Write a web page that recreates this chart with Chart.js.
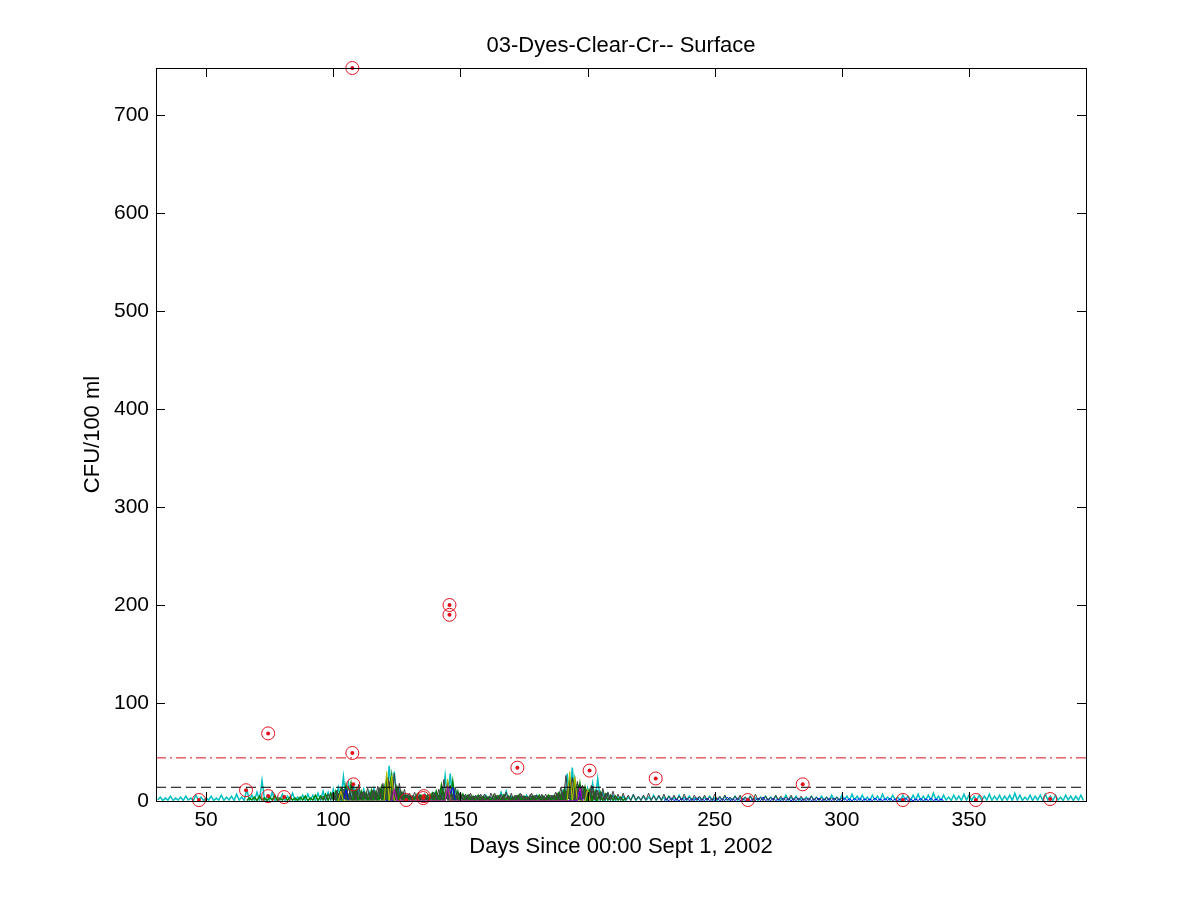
<!DOCTYPE html>
<html>
<head>
<meta charset="utf-8">
<title>03-Dyes-Clear-Cr-- Surface</title>
<script src="https://cdn.jsdelivr.net/npm/chart.js@4.4.1/dist/chart.umd.min.js"></script>
<style>
  html, body { margin: 0; padding: 0; background: #fff; }
  #wrap { width: 1200px; height: 900px; }
</style>
</head>
<body>
<div id="wrap"><canvas id="plotChart" width="1200" height="900"></canvas></div>
<script>
// axis limits and ticks
var xMin = 30.3, xMax = 396;
var yMin = 0, yMax = 748;
var xStep = 50, yStep = 100;

// reference levels (CFU/100 ml)
var upperLimit = 44;
var lowerLimit = 14;

// grab samples (red circles)
var sampleDays   = [47.2, 65.7, 74.4, 74.4, 80.7, 107.5, 107.5, 107.9, 128.7, 135.4, 135.6, 145.7, 145.7, 172.4, 200.8, 226.8, 263, 284.6, 324, 352.7, 381.9];
var sampleValues = [1, 11, 69, 5, 4, 748, 49, 17, 1, 3, 5, 200, 190, 34, 31, 23, 1, 17, 1, 1, 2];

// modelled series, one value per day starting at the given day
var cyanStart = 31;
var cyanValues = [
  1,4,0.5,3,1,5,0.5,3,1,4,0.5,5,1,3,0.5,6,1,4,0.5,3,
  1,5,0.5,3,1,6,0.5,4,1,5,0.5,7,1,4,0.5,12,1,6,0.5,9,
  1,21,0.5,5,1,9,0.5,4,1,7,0.5,5,1,8,0.5,4,1,6,0.5,7,
  1,6,0.5,8,1,10,0.5,9,1,12,0.5,14,1,25,0.5,18,1,15,0.5,13,
  1,12,0.5,10,1,13,0.5,11,1,15,0.5,36,2,30,1,12,0.5,7,1,5,
  0.5,4,1,6,0.5,7,1,5,0.5,8,1,9,0.5,26,1,28,0.5,12,1,6,
  0.5,5,1,4,0.5,5,1,4,0.5,6,1,4,0.5,5,1,9,0.5,10,1,5,
  0.5,5,1,4,0.5,6,1,4,0.5,6,1,5,0.5,4,1,5,0.5,6,1,10,
  0.5,28,1,34,0.5,16,1,9,0.5,13,1,18,0.5,23,1,9,0.5,8,1,6,
  0.5,4,1,5,0.5,4,1,6,0.5,4,1,5,0.5,4,1,6,0.5,5,1,4,
  0.5,5,1,4,0.5,6,1,4,0.5,5,1,3,0.5,4,1,4,0.5,5,1,3,
  0.5,4,1,5,0.5,3,1,5,0.5,4,1,4,0.5,5,1,3,0.5,4,1,5,
  0.5,4,1,5,0.5,3,1,6,0.5,4,1,5,0.5,3,1,4,0.5,5,1,4,
  0.5,5,1,4,0.5,6,1,4,0.5,6,1,5,0.5,7,1,5,0.5,6,1,4,
  0.5,6,1,5,0.5,7,1,4,0.5,6,1,4,0.5,6,1,5,0.5,6,1,7,
  0.5,5,1,6,0.5,8,1,5,0.5,6,1,4,0.5,6,1,5,0.5,7,1,6,
  0.5,5,1,6,0.5,5,1,7,0.5,5,1,6,0.5,5,1,6,0.5,8,1,6,
  0.5,4,1,6,0.5,5,1,6,0.5,7,1,5,0.5,6,1,4,0.5,6,1,5,
  0.5,5,1,6,0.5
];

var greenStart = 66;
var greenValues = [
  0.5,3,1,4,0.5,5,1,3,0.5,4,1,6,0.5,3,1,5,0.5,4,1,3,
  0.5,4,1,5,0.5,3,1,6,0.5,5,1,7,0.5,8,1,10,0.5,12,1,16,
  0.5,18,1,12,0.5,10,1,8,0.5,11,1,9,0.5,14,1,22,0.5,26,1,14,
  0.5,9,1,6,0.5,5,1,7,0.5,5,1,6,0.5,8,1,7,0.5,12,1,18,
  0.5,20,1,10,0.5,7,1,6,0.5,5,1,6,0.5,5,1,4,0.5,6,1,5,
  0.5,6,1,5,0.5,4,1,6,0.5,5,1,4,0.5,5,1,6,0.5,4,1,5,
  0.5,6,1,8,0.5,12,1,20,0.5,22,1,18,0.5,14,1,12,0.5,10,1,9,
  0.5,7,1,6,0.5,5,1,4,0.5,3
];

var green2Start = 100.5;
var green2Values = [
  6,1,8,0.5,10,1,7,0.5,9,1,6,0.5,8,1,7,0.5,9,1,12,0.5,
  16,1,20,0.5,12,1,8,0.5,6,1,5,0.5,4,1,6,0.5,5,1,7,0.5,
  10,1,16,0.5,12,1,7,0.5,5,1,4,0.5,5,1,4,0.5,3,1,4,0.5,
  4,1,3,0.5,5,1,4,0.5,3,1,4,0.5,5,1,3,0.5,4,1,5,0.5,
  4,1,5,0.5,6,1,5,0.5,8,1,10,0.5,16,1,18,0.5,14,1,12,0.5,
  10,1,8,0.5,6,1
];

var grayStart = 95;
var grayValues = [
  1,5,0.5,7,1,9,0.5,8,1,12,0.5,15,1,11,0.5,17,1,10,0.5,9,
  1,11,0.5,14,1,10,0.5,20,1,28,0.5,18,1,12,0.5,8,1,9,0.5,6,
  1,7,0.5,5,1,8,0.5,6,1,10,0.5,16,1,14,0.5,9,1,7,0.5,8,
  1,6,0.5,7,1,5,0.5,8,1,6,0.5,7,1,9,0.5,8,1,6,0.5,7,
  1,5,0.5,8,1,6,0.5,7,1,5,0.5,6,1,8,0.5,9,1,12,0.5,24,
  1,20,0.5,16,1,12,0.5,15,1,11,0.5,13,1,9,0.5,10,1,7,0.5,8,
  1,6,0.5,7,1,5,0.5,6,1,8,0.5,5,1,6,0.5,7,1,5,0.5,6,
  1,5,0.5,7,1,4,0.5,6,1,5,0.5,6,1,4,0.5,7,1,5,0.5,6,
  1,4,0.5,5,1,6,0.5,4,1,5,0.5,7,1,4,0.5,5,1,4,0.5,6,
  1,5,0.5,4,1,6,0.5,4,1,5,0.5,3,1,5,0.5,4,1,3,0.5,4,
  1,3,0.5,4,1,3
];

var gray2Start = 99.5;
var gray2Values = [
  8,1,11,0.5,14,2,10,1,16,0.5,12,1,9,2,13,0.5,11,1,15,2,
  18,1,24,0.5,20,1,14,2,9,0.5,7,1,6,2,8,0.5,5,1,7,2,
  9,0.5,12,1,22,2,15,0.5,10,1,8,2,6,0.5,7,1,5,2,6,0.5,
  7,1,5,2,8,0.5,6,1,7,2,5,0.5,6,1,8,2,5,0.5,7,1,
  6,2,5,0.5,7,1,6,2,9,0.5,14,1,26,2,22,0.5,17,1,15,2,
  12,0.5,16,1,11,2,9,0.5,8,1,6,2
];

var blueStart = 230;
var blueValues = [
  0.5,2,0.3,3,0.5,2,0.3,2.5,0.5,3,0.3,2,0.5,3.5,0.3,2,0.5,3,0.3,2,
  0.5,3,0.3,2,0.5,4,0.3,2,0.5,3,0.3,2.5,0.5,3,0.3,2,0.5,3,0.3,4,
  0.5,2,0.3,3,0.5,2,0.3,3,0.5,2.5,0.3,2,0.5,3,0.3,2,0.5,3,0.3,2,
  0.5,3,0.3,2,0.5,2.5,0.3,3,0.5,2,0.3,3,0.5,2,0.3,2.5,0.5,3,0.3,2,
  0.5,2,0.3,3,0.5,2,0.3,2.5,0.5,3,0.3,2,0.5,2,0.3,3,0.5,2,0.3,2,
  0.5,2.5,0.3,2,0.5,3,0.3,2,0.5,2,0.3
];

// short bursts seen in the storm periods
var blueBurstDays   = [104, 105, 106, 144, 145, 146, 147, 148, 196, 197, 198];
var blueBurstValues = [0, 12, 0, 0, 19, 8, 14, 0, 0, 10, 0];
var yellowDays   = [102, 103, 104, 120, 121, 122, 123, 124, 144, 145, 146, 192, 193, 194, 195, 196, 199, 200, 201];
var yellowValues = [0, 10, 0, 0, 30, 0, 26, 0, 0, 22, 0, 0, 30, 0, 24, 0, 0, 12, 0];
var magentaDays   = [123, 124, 125, 144, 145, 146, 196, 197, 198];
var magentaValues = [0, 12, 0, 0, 15, 0, 0, 14, 0];

function daily(start, values) {
  return values.map(function (v, i) { return { x: start + i, y: v }; });
}
function paired(days, values) {
  return days.map(function (d, i) { return { x: d, y: values[i] }; });
}
function series(data, color, width) {
  return { data: data, showLine: true, borderColor: color, borderWidth: width || 1, pointRadius: 0, tension: 0 };
}

var tickFont = { family: '"Liberation Sans", Arial, sans-serif', size: 21, weight: 'normal' };
var labelFont = { family: '"Liberation Sans", Arial, sans-serif', size: 22, weight: 'normal' };

// MATLAB style box with inward tick marks
var axesBox = {
  id: 'axesBox',
  afterDraw: function (chart) {
    var ctx = chart.ctx, a = chart.chartArea;
    var xs = chart.scales.x, ys = chart.scales.y;
    var len = 9;
    ctx.save();
    ctx.strokeStyle = '#000';
    ctx.lineWidth = 1;
    ctx.beginPath();
    xs.ticks.forEach(function (t) {
      var px = Math.round(xs.getPixelForValue(t.value)) + 0.5;
      ctx.moveTo(px, a.bottom); ctx.lineTo(px, a.bottom - len);
      ctx.moveTo(px, a.top); ctx.lineTo(px, a.top + len);
    });
    ys.ticks.forEach(function (t) {
      var py = Math.round(ys.getPixelForValue(t.value)) + 0.5;
      ctx.moveTo(a.left, py); ctx.lineTo(a.left + len, py);
      ctx.moveTo(a.right, py); ctx.lineTo(a.right - len, py);
    });
    ctx.stroke();
    ctx.strokeRect(Math.round(a.left) + 0.5, Math.round(a.top) + 0.5,
      Math.round(a.right - a.left), Math.round(a.bottom - a.top));
    ctx.restore();
  }
};

var plotChart = new Chart(document.getElementById('plotChart').getContext('2d'), {
  type: 'scatter',
  data: {
    datasets: [
      { data: paired(sampleDays, sampleValues), showLine: false, pointRadius: 2, pointBorderWidth: 0,
        pointBackgroundColor: '#e0101c', clip: false },
      { data: paired(sampleDays, sampleValues), showLine: false, pointRadius: 6.5, pointBorderWidth: 1,
        pointBorderColor: '#e0101c', pointBackgroundColor: 'rgba(0,0,0,0)', clip: false },
      { data: paired([xMin, xMax], [upperLimit, upperLimit]), showLine: true, pointRadius: 0,
        borderColor: '#d8101c', borderWidth: 1, borderDash: [10, 4, 2, 4] },
      { data: paired([xMin, xMax], [lowerLimit, lowerLimit]), showLine: true, pointRadius: 0,
        borderColor: '#000', borderWidth: 1, borderDash: [10, 5] },
      series(paired(magentaDays, magentaValues), 'rgb(191,0,191)'),
      series(paired(yellowDays, yellowValues), 'rgb(191,191,0)'),
      series(paired(blueBurstDays, blueBurstValues), 'rgb(0,0,255)'),
      series(daily(gray2Start, gray2Values), 'rgb(64,64,64)'),
      series(daily(grayStart, grayValues), 'rgb(64,64,64)'),
      series(daily(green2Start, green2Values), 'rgb(0,128,0)', 1.5),
      series(daily(greenStart, greenValues), 'rgb(0,128,0)', 1.5),
      series(daily(blueStart, blueValues), 'rgb(0,0,255)'),
      series(daily(cyanStart, cyanValues), 'rgb(0,191,191)', 1.5)
    ]
  },
  options: {
    responsive: false,
    animation: false,
    layout: { padding: { left: 0, right: 114, top: 0, bottom: 0 } },
    plugins: {
      legend: { display: false },
      tooltip: { enabled: false },
      title: { display: false }
    },
    scales: {
      x: {
        type: 'linear',
        min: xMin,
        max: xMax,
        grid: { display: false, drawTicks: false },
        border: { display: false },
        ticks: { stepSize: xStep, includeBounds: false, color: '#000', font: tickFont, padding: 7, maxRotation: 0 },
        title: { display: true, text: 'Days Since 00:00 Sept 1, 2002', color: '#000', font: labelFont,
                 padding: { top: 0, bottom: 40 } },
        afterFit: function (s) { s.height = 99; }
      },
      xTop: {
        type: 'linear',
        position: 'top',
        min: xMin,
        max: xMax,
        grid: { display: false, drawTicks: false },
        border: { display: false },
        ticks: { display: false },
        title: { display: true, text: '03-Dyes-Clear-Cr-- Surface', color: '#000', font: labelFont,
                 padding: { top: 33, bottom: 0 } },
        afterFit: function (s) { s.height = 68; }
      },
      y: {
        type: 'linear',
        min: yMin,
        max: yMax,
        grid: { display: false, drawTicks: false },
        border: { display: false },
        ticks: { stepSize: yStep, includeBounds: false, color: '#000', font: tickFont, padding: 7 },
        title: { display: true, text: 'CFU/100 ml', color: '#000', font: labelFont,
                 padding: { top: 80, bottom: 0 } },
        afterFit: function (s) { s.width = 156; }
      }
    }
  },
  plugins: [axesBox]
});
</script>
</body>
</html>
